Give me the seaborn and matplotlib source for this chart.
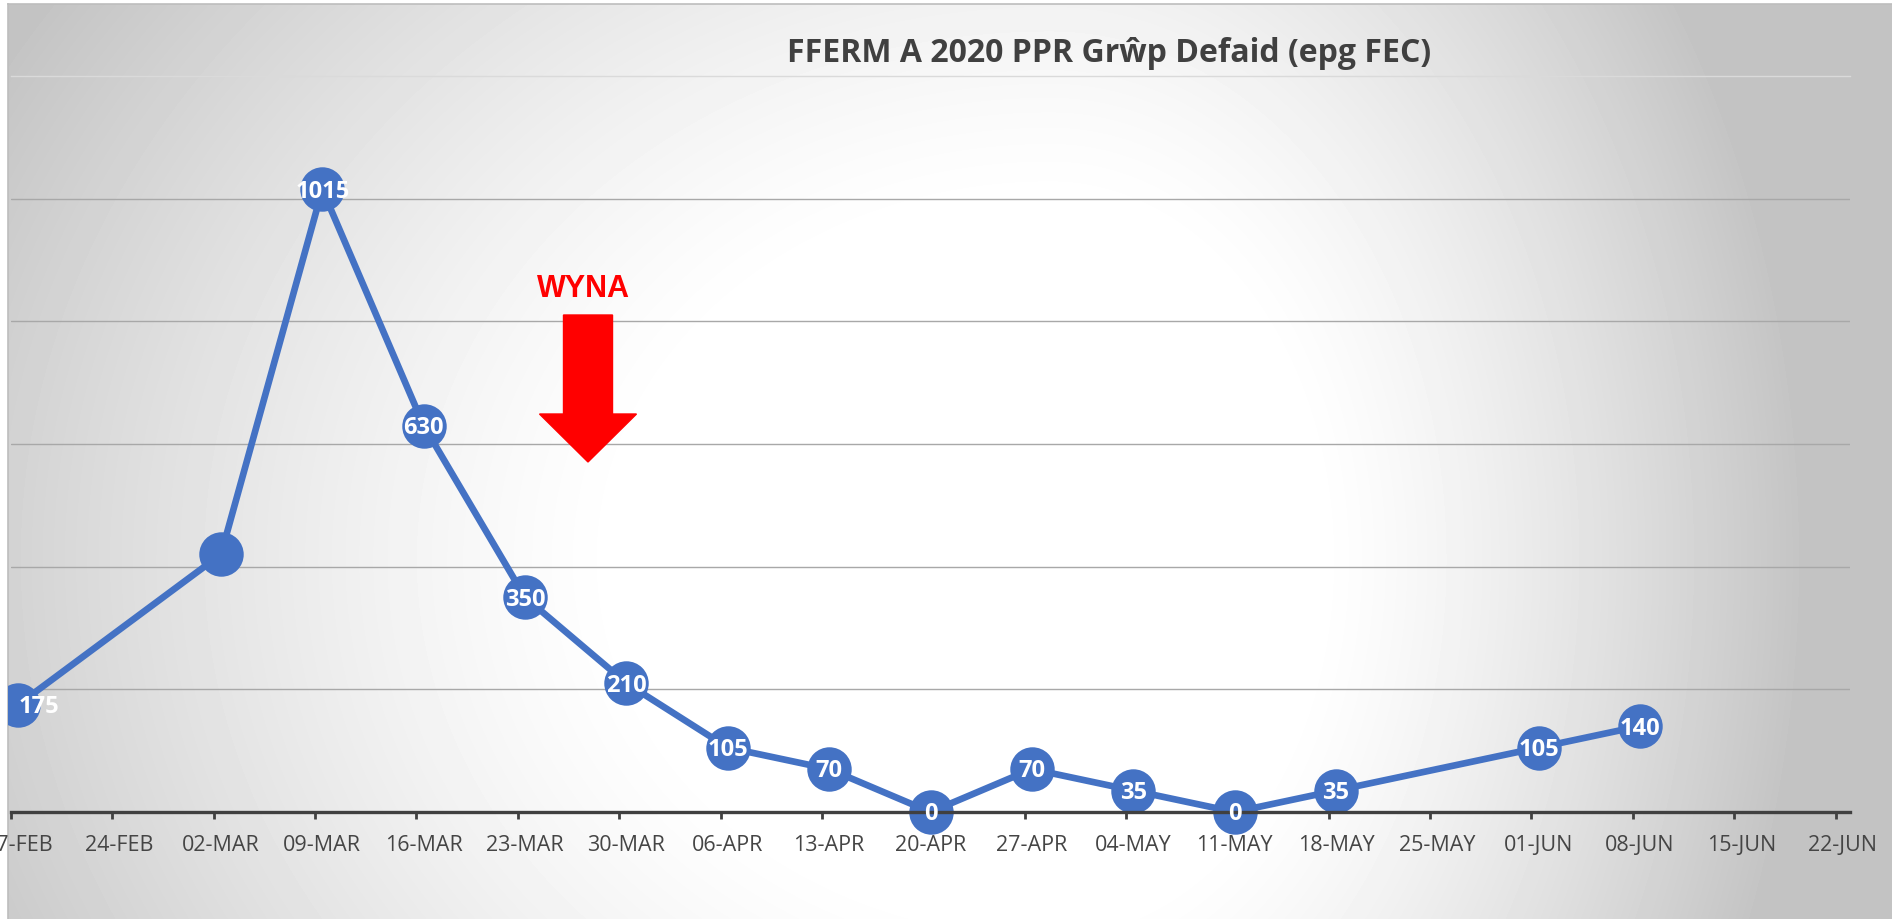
"""Weekly sheep faecal egg counts (epg) for farm A, 2020, as a dated line chart."""

import matplotlib

matplotlib.use("Agg")

import matplotlib.dates as mdates
import matplotlib.pyplot as plt
import numpy as np
import pandas as pd
import seaborn as sns
from matplotlib.patches import FancyArrow
from matplotlib.transforms import Bbox, IdentityTransform, TransformedBbox

# ---- data -------------------------------------------------------------
week_labels = [
    "17-FEB", "24-FEB", "02-MAR", "09-MAR", "16-MAR", "23-MAR", "30-MAR",
    "06-APR", "13-APR", "20-APR", "27-APR", "04-MAY", "11-MAY", "18-MAY",
    "25-MAY", "01-JUN", "08-JUN", "15-JUN", "22-JUN",
]
# sampled weeks (24-FEB and 25-MAY were not sampled)
sample_weeks = [
    "17-FEB", "02-MAR", "09-MAR", "16-MAR", "23-MAR", "30-MAR", "06-APR",
    "13-APR", "20-APR", "27-APR", "04-MAY", "11-MAY", "18-MAY", "01-JUN", "08-JUN",
]
epg_values = [175, 420, 1015, 630, 350, 210, 105, 70, 0, 70, 35, 0, 35, 105, 140]
point_labels = ["175", "", "1015", "630", "350", "210", "105", "70", "0", "70", "35", "0", "35", "105", "140"]

title = "FFERM A 2020 PPR Grŵp Defaid (epg FEC)"
note_text = "WYNA"

W, H = 1892, 920
LINE_BLUE = "#4472C4"
AXIS_GREY = "#404040"


def week_to_date(labels):
    return pd.to_datetime([f"{s}-2020" for s in labels], format="%d-%b-%Y")


def draw_background(fig):
    # radial grey-to-white fill of the chart area (white margin left/top)
    left, top = 8, 5
    ys, xs = np.mgrid[top:H, left:W].astype(float)
    cx, cy = 1050.0, 560.0
    sx = np.where(xs < cx, 1200.0, 750.0)
    r = np.sqrt(((xs - cx) / sx) ** 2 + ((ys - cy) / 1000.0) ** 2)
    t = np.clip((r - 0.35) / 0.65, 0, 1) ** 1.3
    shade = (255 - 59 * t) / 255.0

    bg = fig.add_axes([left / W, 0, 1 - left / W, (H - top) / H], zorder=-5)
    bg.imshow(shade, cmap="gray", vmin=0, vmax=1, aspect="auto", interpolation="bilinear")
    bg.set_xticks([])
    bg.set_yticks([])
    for side in ["right", "bottom"]:
        bg.spines[side].set_visible(False)
    for side in ["left", "top"]:
        bg.spines[side].set_color("#bdbdbd")
        bg.spines[side].set_linewidth(1.2)
    return bg


def main():
    sns.set_theme(style="white")
    plt.rcParams["font.family"] = ["Open Sans", "DejaVu Sans"]

    tick_dates = week_to_date(week_labels)
    half_day = pd.Timedelta(hours=12)

    df = pd.DataFrame({
        "week": week_to_date(sample_weeks) + half_day,
        "epg": epg_values,
        "label": point_labels,
    })

    fig = plt.figure(figsize=(W / 100, H / 100), dpi=100, facecolor="white")
    draw_background(fig)

    ax = fig.add_axes([11 / W, 107 / H, (1850 - 11) / W, (813 - 77) / H])
    ax.set_facecolor("none")

    sns.lineplot(
        data=df, x="week", y="epg", ax=ax, color=LINE_BLUE,
        linewidth=4.8, marker="o", markersize=32, markeredgewidth=0,
    )
    chart_clip = TransformedBbox(Bbox([[8 / W, 0], [1, (H - 5) / H]]), fig.transFigure)
    for line in ax.lines:
        line.set_clip_box(chart_clip)

    for i, row in enumerate(df.itertuples()):
        if not row.label:
            continue
        ax.annotate(
            row.label, (row.week, row.epg), xytext=(0, -1), textcoords="offset points",
            ha="left" if i == 0 else "center", va="center",
            color="white", fontsize=17, fontweight="bold", annotation_clip=False,
        )

    ax.set_xlim(tick_dates[0], tick_dates[-1] + pd.Timedelta(days=1))
    ax.set_ylim(0, 1200)

    ax.set_xticks(mdates.date2num(tick_dates))
    ax.set_xticklabels([""] * len(tick_dates))
    ax.set_xticks(mdates.date2num(tick_dates + half_day), minor=True)
    ax.set_xticklabels(week_labels, minor=True)
    ax.tick_params(axis="x", which="major", direction="out", length=5, width=2, color=AXIS_GREY, bottom=True)
    ax.tick_params(axis="x", which="minor", length=0, pad=16, labelsize=15.5, labelcolor="#454545", bottom=True)

    ax.set_yticks(range(0, 1001, 200))
    ax.tick_params(axis="y", length=0, labelleft=False)
    ax.yaxis.grid(True, color="#a8a8a8", linewidth=1.0)
    ax.xaxis.grid(False)
    ax.set_xlabel("")
    ax.set_ylabel("")

    for side in ["left", "right"]:
        ax.spines[side].set_visible(False)
    ax.spines["bottom"].set_color(AXIS_GREY)
    ax.spines["bottom"].set_linewidth(2.4)
    ax.spines["top"].set_color("#dadada")
    ax.spines["top"].set_linewidth(1.0)

    fig.text(1109 / W, 1 - 62 / H, title, ha="center", va="baseline",
             fontsize=23, fontweight="bold", color=AXIS_GREY)

    fig.text(583 / W, 1 - 289 / H, note_text, ha="center", va="center",
             fontsize=22, fontweight="bold", color="#FF0000", family="Liberation Sans")
    arrow = FancyArrow(
        588, H - 316, 0, -(463 - 316), width=49, head_width=97, head_length=48,
        length_includes_head=True, color="#FF0000", transform=IdentityTransform(),
    )
    fig.add_artist(arrow)

    fig.savefig("out.png", dpi=100, facecolor="white")
    plt.close(fig)


if __name__ == "__main__":
    main()
